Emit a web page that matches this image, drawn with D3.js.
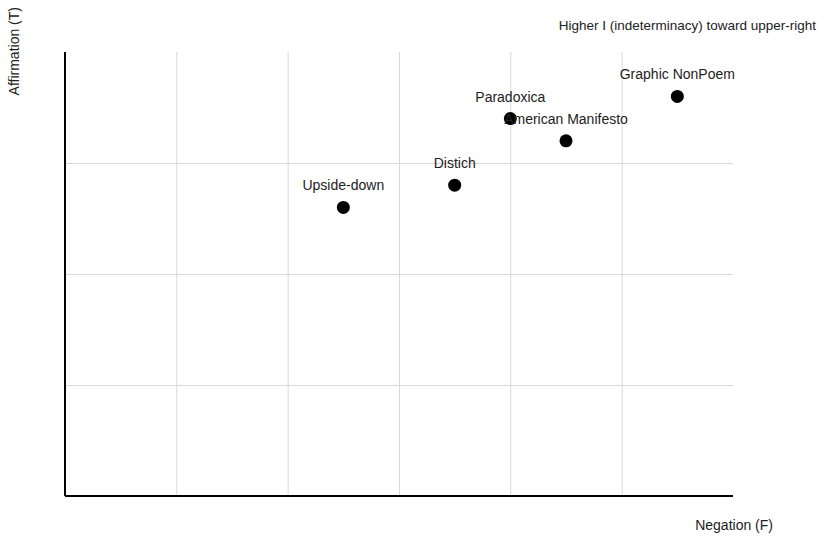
<!DOCTYPE html>
<html>
<head>
<meta charset="utf-8">
<script src="https://cdn.jsdelivr.net/npm/d3@7"></script>
<style>
  body { margin: 0; background: #fff; }
  text { font-family: "Liberation Sans", Arial, sans-serif; }
</style>
</head>
<body>
<div id="content"></div>
<script>
const width = 823;
const height = 536;
const margin = { top: 52, right: 90, bottom: 40, left: 65 };

// poems: negation (F) on x, affirmation (T) on y
const names = ["Upside-down", "Distich", "Paradoxica", "American Manifesto", "Graphic NonPoem"];
const negation = [0.5, 0.7, 0.8, 0.9, 1.1];
const affirmation = [0.65, 0.7, 0.85, 0.8, 0.9];

const x_ticks = [0.2, 0.4, 0.6, 0.8, 1.0];
const y_ticks = [0.25, 0.5, 0.75];

var svg = d3
    .select("#content")
    .append("svg")
    .attr("width", width)
    .attr("height", height);

var x = d3.scaleLinear().domain([0, 1.2]).range([margin.left, width - margin.right]);
var y = d3.scaleLinear().domain([0, 1]).range([height - margin.bottom, margin.top]);

// grid
svg.append("g")
    .attr("transform", "translate(0," + y(0) + ")")
    .call(d3.axisBottom(x).tickValues(x_ticks).tickSize(-(y(0) - y(1))).tickFormat(""))
    .call(g => g.select(".domain").remove())
    .call(g => g.selectAll("line").attr("stroke", "#d9d9d9"));

svg.append("g")
    .attr("transform", "translate(" + x(0) + ",0)")
    .call(d3.axisLeft(y).tickValues(y_ticks).tickSize(-(x(1.2) - x(0))).tickFormat(""))
    .call(g => g.select(".domain").remove())
    .call(g => g.selectAll("line").attr("stroke", "#d9d9d9"));

// axes lines
svg.append("line")
    .attr("x1", x(0)).attr("x2", x(1.2))
    .attr("y1", y(0)).attr("y2", y(0))
    .attr("stroke", "#000").attr("stroke-width", 2);

svg.append("line")
    .attr("x1", x(0)).attr("x2", x(0))
    .attr("y1", y(0)).attr("y2", y(1))
    .attr("stroke", "#000").attr("stroke-width", 2);

var data = names.map((n, i) => ({ name: n, f: negation[i], t: affirmation[i] }));

svg.selectAll(".pt")
    .data(data)
    .enter()
    .append("circle")
    .attr("class", "pt")
    .attr("cx", d => x(d.f))
    .attr("cy", d => y(d.t))
    .attr("r", 6.5)
    .attr("fill", "#000");

svg.selectAll(".lbl")
    .data(data)
    .enter()
    .append("text")
    .attr("class", "lbl")
    .attr("x", d => x(d.f))
    .attr("y", d => y(d.t) - 17)
    .attr("text-anchor", "middle")
    .style("font-size", "14px")
    .style("fill", "#222")
    .text(d => d.name);

svg.append("text")
    .attr("x", 773)
    .attr("y", 530)
    .attr("text-anchor", "end")
    .style("font-size", "14px")
    .style("fill", "#222")
    .text("Negation (F)");

svg.append("text")
    .attr("transform", "translate(19,7) rotate(-90)")
    .attr("text-anchor", "end")
    .style("font-size", "14px")
    .style("fill", "#222")
    .text("Affirmation (T)");

svg.append("text")
    .attr("x", 816)
    .attr("y", 30)
    .attr("text-anchor", "end")
    .style("font-size", "13.5px")
    .style("fill", "#222")
    .text("Higher I (indeterminacy) toward upper-right");
</script>
</body>
</html>
